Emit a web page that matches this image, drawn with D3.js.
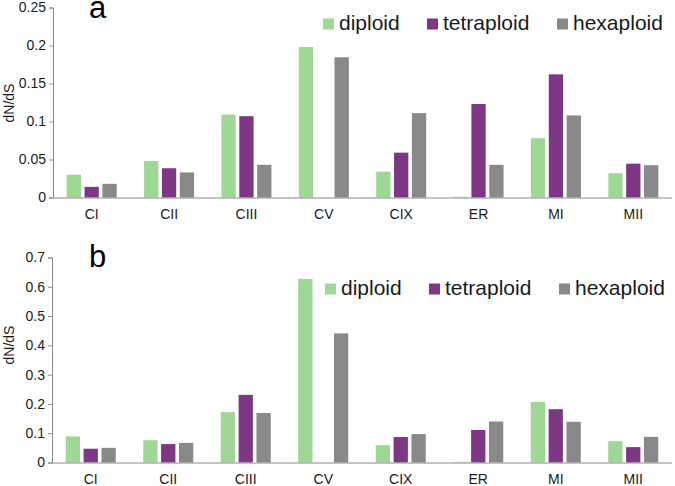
<!DOCTYPE html>
<html><head><meta charset="utf-8">
<script src="https://cdn.jsdelivr.net/npm/d3@7"></script>
<style>
html,body{margin:0;padding:0;background:#fff;}
svg{display:block;font-family:"Liberation Sans",Arial,sans-serif;}
</style>
</head><body>
<svg id="c" width="675" height="486"></svg>
<script>
const categories = ["CI","CII","CIII","CV","CIX","ER","MI","MII"];
const seriesNames = ["diploid","tetraploid","hexaploid"];
const seriesColors = ["#9fd894","#7d3785","#898989"];

// panel a
const aDiploid    = [0.030,0.048,0.109,0.198,0.034,0.001,0.078,0.032];
const aTetraploid = [0.014,0.0385,0.107,0,0.059,0.123,0.162,0.0445];
const aHexaploid  = [0.018,0.033,0.043,0.1845,0.111,0.043,0.108,0.0425];
const aTicks = [0,0.05,0.1,0.15,0.2,0.25];
const aTickLabels = ["0","0.05","0.1","0.15","0.2","0.25"];

// panel b
const bDiploid    = [0.089,0.076,0.172,0.627,0.059,0.002,0.207,0.073];
const bTetraploid = [0.047,0.063,0.231,0,0.087,0.111,0.182,0.0525];
const bHexaploid  = [0.050,0.067,0.169,0.441,0.097,0.140,0.139,0.0875];
const bTicks = [0,0.1,0.2,0.3,0.4,0.5,0.6,0.7];
const bTickLabels = ["0","0.1","0.2","0.3","0.4","0.5","0.6","0.7"];

const svg = d3.select("#c");
const axisColor = "#8a8a8a";
const textColor = "#1a1a1a";

function panel(opt){
  const g = svg.append("g");
  const x = d3.scaleBand().domain(categories).range([opt.x0, opt.x1]);
  const y = d3.scaleLinear().domain([0, opt.ymax]).range([opt.y0, opt.yTop]);
  const x1 = d3.scaleBand().domain(seriesNames).range([-25, 25]).paddingInner(0.2);
  const data = [opt.d, opt.t, opt.h];

  // bars
  categories.forEach((c, i) => {
    seriesNames.forEach((s, j) => {
      const v = data[j][i];
      if (v <= 0) return;
      const cx = x(c) + x.bandwidth()/2;
      g.append("rect")
        .attr("x", cx + x1(s))
        .attr("width", x1.bandwidth())
        .attr("y", y(v))
        .attr("height", y(0) - y(v))
        .attr("fill", seriesColors[j]);
    });
  });

  // y axis
  const yAxis = d3.axisLeft(y).tickValues(opt.ticks)
    .tickFormat((d,i)=>opt.tickLabels[i]).tickSizeInner(4).tickSizeOuter(4).tickPadding(3);
  const ya = g.append("g").attr("transform", `translate(${opt.x0},0)`).call(yAxis);
  ya.select(".domain").attr("stroke", axisColor);
  ya.selectAll(".tick line").attr("stroke", axisColor);
  ya.selectAll("text").attr("fill", textColor).style("font-size","14px")
    .style("font-family","'Liberation Sans',Arial,sans-serif");

  // x axis
  const xAxis = d3.axisBottom(x).tickSize(0).tickPadding(12);
  const xa = g.append("g").attr("transform", `translate(0,${opt.y0})`).call(xAxis);
  xa.select(".domain").attr("stroke", axisColor).attr("d", `M${opt.x0},0.5H${opt.x1}`);
  xa.selectAll("text").attr("fill", textColor).style("font-size","14px")
    .style("font-family","'Liberation Sans',Arial,sans-serif");

  // y title
  g.append("text")
    .attr("transform", `translate(${opt.titleX},${opt.titleY}) rotate(-90)`)
    .attr("text-anchor","middle")
    .attr("fill", textColor)
    .style("font-size","14px")
    .text("dN/dS");

  // panel label
  g.append("text").attr("x", opt.labelX).attr("y", opt.labelY)
    .attr("fill","#000").style("font-size","31px").text(opt.label);

  // legend
  const lx = [323, 427, 557];
  seriesNames.forEach((s, j) => {
    g.append("rect").attr("x", lx[j] + opt.legDx).attr("y", opt.legY - 11.5)
      .attr("width", 11).attr("height", 11).attr("fill", seriesColors[j]);
    g.append("text").attr("x", lx[j] + opt.legDx + 16).attr("y", opt.legY)
      .attr("fill", textColor).style("font-size","21px").text(s);
  });
}

panel({x0:53, x1:672, y0:197.5, yTop:7.5, ymax:0.25, ticks:aTicks, tickLabels:aTickLabels,
  d:aDiploid, t:aTetraploid, h:aHexaploid, titleX:14, titleY:103, label:"a", labelX:89, labelY:18,
  legY:30, legDx:0});
panel({x0:52, x1:672, y0:462.5, yTop:257.5, ymax:0.7, ticks:bTicks, tickLabels:bTickLabels,
  d:bDiploid, t:bTetraploid, h:bHexaploid, titleX:14, titleY:345, label:"b", labelX:89, labelY:267,
  legY:295, legDx:2});
</script>
</body></html>
